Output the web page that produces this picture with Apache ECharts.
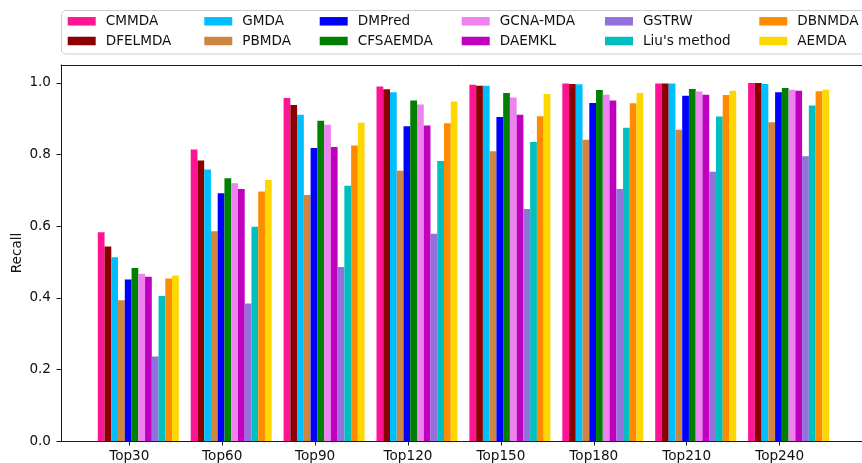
<!DOCTYPE html>
<html>
<head>
<meta charset="utf-8">
<script src="https://cdn.jsdelivr.net/npm/echarts@6/dist/echarts.min.js"></script>
<style>
  html, body { margin: 0; padding: 0; background: #fff; overflow: hidden; }
  #chart { width: 862px; height: 463px; }
</style>
</head>
<body>
<div id="chart"></div>
<script>
// Recall of each method at increasing Top-k cut-offs
const categories = ['Top30', 'Top60', 'Top90', 'Top120', 'Top150', 'Top180', 'Top210', 'Top240'];
const yTicks = [0, 0.2, 0.4, 0.6, 0.8, 1.0];

const CMMDA    = [0.583, 0.814, 0.958, 0.990, 0.995, 0.998, 0.998, 1.000];
const DFELMDA  = [0.543, 0.783, 0.938, 0.982, 0.992, 0.997, 0.998, 1.000];
const GMDA     = [0.513, 0.758, 0.911, 0.974, 0.992, 0.996, 0.998, 0.997];
const PBMDA    = [0.393, 0.586, 0.687, 0.755, 0.809, 0.841, 0.869, 0.890];
const DMPred   = [0.451, 0.692, 0.818, 0.879, 0.905, 0.944, 0.964, 0.974];
const CFSAEMDA = [0.483, 0.734, 0.894, 0.951, 0.972, 0.980, 0.983, 0.986];
const GCNA_MDA = [0.467, 0.720, 0.883, 0.940, 0.959, 0.967, 0.976, 0.981];
const DAEMKL   = [0.459, 0.704, 0.821, 0.881, 0.911, 0.951, 0.967, 0.978];
const GSTRW    = [0.236, 0.384, 0.486, 0.579, 0.648, 0.704, 0.752, 0.795];
const LIU      = [0.405, 0.598, 0.713, 0.782, 0.835, 0.875, 0.906, 0.937];
const DBNMDA   = [0.454, 0.697, 0.825, 0.887, 0.907, 0.943, 0.966, 0.977];
const AEMDA    = [0.462, 0.729, 0.889, 0.948, 0.969, 0.972, 0.978, 0.981];

const methodNames = ['CMMDA', 'DFELMDA', 'GMDA', 'PBMDA', 'DMPred', 'CFSAEMDA',
                     'GCNA-MDA', 'DAEMKL', 'GSTRW', "Liu's method", 'DBNMDA', 'AEMDA'];
const methodValues = [CMMDA, DFELMDA, GMDA, PBMDA, DMPred, CFSAEMDA,
                      GCNA_MDA, DAEMKL, GSTRW, LIU, DBNMDA, AEMDA];
const methodColors = ['#ff1493', '#8b0000', '#00bfff', '#cd853f', '#0000ff', '#008000',
                      '#ee82ee', '#bf00bf', '#9370db', '#00bfbf', '#ff8c00', '#ffd700'];

// legend is laid out in columns of two entries
const legendColumnLeft = [67.7, 204.3, 319.7, 461.7, 605, 759.3];

const FONT = 'DejaVu Sans';
const TEXT = '#111';
const LINE = '#1a1a1a';
const PLOT_TOP = 65, PLOT_BOTTOM = 22;

const chart = echarts.init(document.getElementById('chart'), null, { renderer: 'canvas' });

const legends = legendColumnLeft.map((left, c) => ({
  orient: 'vertical',
  left: left,
  top: 13.3,
  padding: 0,
  itemGap: 3.7,
  itemWidth: 28,
  itemHeight: 8.5,
  icon: 'rect',
  selectedMode: false,
  data: [methodNames[2 * c], methodNames[2 * c + 1]],
  textStyle: { fontFamily: FONT, fontSize: 13.6, color: TEXT, lineHeight: 16, padding: [0, 0, 0, 5] }
}));

const gridBase = { top: PLOT_TOP, bottom: PLOT_BOTTOM, containLabel: false, outerBoundsMode: 'none' };

const option = {
  animation: false,
  backgroundColor: '#fff',
  graphic: [{
    // legend frame, open on the right where it leaves the figure
    type: 'polyline',
    z: 0,
    shape: { points: [[862, 10.5], [64.5, 10.5], [61.5, 13.5], [61.5, 51], [64.5, 54], [862, 54]] },
    style: { fill: null, stroke: '#cccccc', lineWidth: 1 }
  }],
  legend: legends,
  grid: [
    // frame with the y scale
    Object.assign({ left: 61, right: 0 }, gridBase),
    // bar groups
    Object.assign({ left: 91.85, right: 26.95 }, gridBase),
    // category tick marks and labels
    Object.assign({ left: 82.85, right: 35.95 }, gridBase)
  ],
  xAxis: [
    { gridIndex: 0, type: 'value', min: 0, max: 1, z: 10,
      axisLine: { show: true, onZero: false, lineStyle: { color: LINE, width: 1 } },
      axisTick: { show: false }, axisLabel: { show: false }, splitLine: { show: false } },
    { gridIndex: 0, type: 'value', position: 'top', min: 0, max: 1, z: 10,
      axisLine: { show: true, onZero: false, lineStyle: { color: LINE, width: 1 } },
      axisTick: { show: false }, axisLabel: { show: false }, splitLine: { show: false } },
    { gridIndex: 1, type: 'category', data: categories, show: false },
    { gridIndex: 2, type: 'category', data: categories, z: 10,
      axisLine: { show: false },
      axisTick: { show: true, alignWithLabel: true, length: 4.5, lineStyle: { color: LINE, width: 1 } },
      axisLabel: { margin: 8, fontFamily: FONT, fontSize: 13.6, color: TEXT },
      splitLine: { show: false } }
  ],
  yAxis: [
    { gridIndex: 0, type: 'value', min: 0, max: 1.05, z: 10,
      name: 'Recall', nameLocation: 'middle', nameGap: 37, nameMoveOverlap: false,
      nameTextStyle: { fontFamily: FONT, fontSize: 13.6, color: TEXT },
      axisLine: { show: true, onZero: false, lineStyle: { color: LINE, width: 1 } },
      axisTick: { show: true, length: 4.5, customValues: yTicks, lineStyle: { color: LINE, width: 1 } },
      axisLabel: { margin: 10, customValues: yTicks, fontFamily: FONT, fontSize: 13.6, color: TEXT,
                   formatter: v => v.toFixed(1) },
      splitLine: { show: false } },
    { gridIndex: 1, type: 'value', min: 0, max: 1.05, show: false },
    { gridIndex: 2, type: 'value', min: 0, max: 1.05, show: false }
  ],
  series: methodNames.map((name, i) => ({
    name: name,
    type: 'bar',
    xAxisIndex: 2,
    yAxisIndex: 1,
    data: methodValues[i],
    barWidth: 6.75,
    barGap: '0%',
    itemStyle: { color: methodColors[i] },
    emphasis: { disabled: true }
  }))
};

chart.setOption(option);
</script>
</body>
</html>
